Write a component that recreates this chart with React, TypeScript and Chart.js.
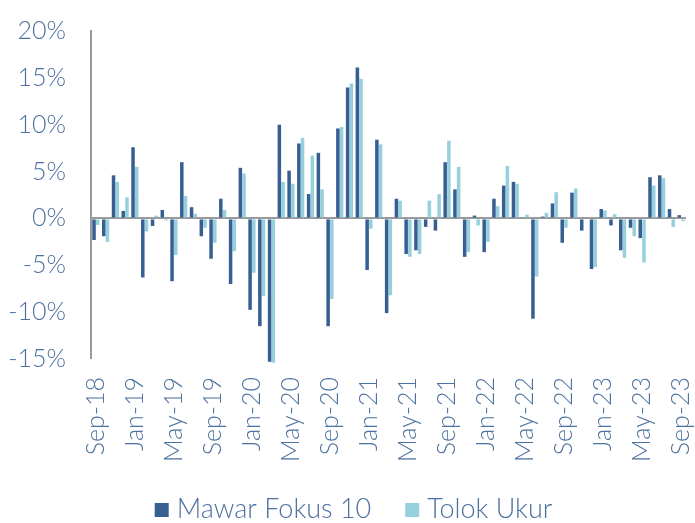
import React, { useEffect, useRef } from "react";
import { Chart, registerables } from "chart.js";

Chart.register(...registerables);

const months: string[] = [
  "Sep-18", "Oct-18", "Nov-18", "Dec-18",
  "Jan-19", "Feb-19", "Mar-19", "Apr-19", "May-19", "Jun-19", "Jul-19", "Aug-19", "Sep-19", "Oct-19", "Nov-19", "Dec-19",
  "Jan-20", "Feb-20", "Mar-20", "Apr-20", "May-20", "Jun-20", "Jul-20", "Aug-20", "Sep-20", "Oct-20", "Nov-20", "Dec-20",
  "Jan-21", "Feb-21", "Mar-21", "Apr-21", "May-21", "Jun-21", "Jul-21", "Aug-21", "Sep-21", "Oct-21", "Nov-21", "Dec-21",
  "Jan-22", "Feb-22", "Mar-22", "Apr-22", "May-22", "Jun-22", "Jul-22", "Aug-22", "Sep-22", "Oct-22", "Nov-22", "Dec-22",
  "Jan-23", "Feb-23", "Mar-23", "Apr-23", "May-23", "Jun-23", "Jul-23", "Aug-23", "Sep-23",
];

const mawarFokus10: number[] = [
  -2.3, -1.9, 4.6, 0.8,
  7.6, -6.3, -0.8, 0.9, -6.7, 6.0, 1.2, -1.9, -4.3, 2.1, -7.0, 5.4,
  -9.75, -11.5, -15.3, 10.0, 5.1, 8.0, 2.6, 7.0, -11.5, 9.6, 13.96, 16.1,
  -5.5, 8.4, -10.1, 2.1, -3.8, -3.4, -0.9, -1.3, 6.0, 3.1, -4.1, 0.3,
  -3.6, 2.1, 3.5, 3.9, 0.0, -10.7, 0.2, 1.6, -2.6, 2.75, -1.3, -5.4,
  1.0, -0.75, -3.4, -1.0, -2.1, 4.4, 4.6, 1.0, 0.35,
];

const tolokUkur: number[] = [
  -0.7, -2.5, 3.9, 2.25,
  5.5, -1.4, 0.3, -0.2, -3.9, 2.4, 0.5, -1.0, -2.6, 0.9, -3.5, 4.8,
  -5.8, -8.3, -15.4, 3.9, 3.7, 8.6, 6.7, 3.1, -8.6, 9.75, 14.4, 14.9,
  -1.1, 7.9, -8.2, 1.9, -4.1, -3.8, 1.9, 2.6, 8.3, 5.5, -3.6, -0.75,
  -2.5, 1.3, 5.6, 3.7, 0.4, -6.2, 0.6, 2.8, -1.0, 3.2, -0.1, -5.2,
  0.85, 0.45, -4.2, -1.9, -4.7, 3.5, 4.3, -0.9, -0.3,
];

const yTicks: number[] = [-15, -10, -5, 0, 5, 10, 15, 20];

const TEXT = "#4d71a0";
const FONT = "Lato";
const WEIGHT = "300";

const legendPlugin = {
  id: "customLegend",
  afterDraw(chart: any) {
    const ctx = chart.ctx;
    const size = 27;
    const box = 14;
    const gapBoxText = 8;
    const gapItems = 34;
    const cy = 509;
    ctx.save();
    ctx.font = `${WEIGHT} ${size}px ${FONT}`;
    const items = chart.data.datasets.map((d: any) => ({
      label: d.label,
      color: d.backgroundColor,
      w: ctx.measureText(d.label).width,
    }));
    const total =
      items.reduce((a: number, it: any) => a + box + gapBoxText + it.w, 0) +
      gapItems * (items.length - 1);
    let x = chart.width / 2 - total / 2 + 6;
    ctx.textBaseline = "middle";
    ctx.textAlign = "left";
    items.forEach((it: any) => {
      ctx.fillStyle = it.color;
      ctx.fillRect(x, cy - box / 2 + 1, box, box);
      x += box + gapBoxText;
      ctx.fillStyle = TEXT;
      ctx.fillText(it.label, x, cy);
      x += it.w + gapItems;
    });
    ctx.restore();
  },
};

export default function App() {
  const ref = useRef<HTMLCanvasElement | null>(null);

  useEffect(() => {
    if (!ref.current) return;
    const chart = new Chart(ref.current, {
      type: "bar",
      data: {
        labels: months,
        datasets: [
          {
            label: "Mawar Fokus 10",
            data: mawarFokus10,
            backgroundColor: "#375f91",
            categoryPercentage: 0.76,
            barPercentage: 0.95,
            clip: 4,
          },
          {
            label: "Tolok Ukur",
            data: tolokUkur,
            backgroundColor: "#96d0dd",
            categoryPercentage: 0.76,
            barPercentage: 0.95,
            clip: 4,
          },
        ],
      },
      options: {
        responsive: false,
        animation: false,
        layout: { autoPadding: false, padding: { top: 31, right: 9, bottom: 50, left: 0 } },
        plugins: {
          tooltip: { enabled: false },
          legend: { display: false },
        },
        scales: {
          x: {
            grid: { display: false, drawTicks: false },
            border: { display: false },
            ticks: {
              autoSkip: false,
              maxRotation: 90,
              minRotation: 90,
              padding: 18,
              color: TEXT,
              font: { family: FONT, size: 25, weight: WEIGHT },
              callback: (_v: any, i: number) => (i % 4 === 0 ? months[i] : ""),
            },
            afterFit: (s: any) => {
              s.height = 114;
              s.paddingLeft = 0;
              s.paddingRight = 0;
            },
          },
          y: {
            min: -15,
            max: 20,
            afterBuildTicks: (s: any) => {
              s.ticks = yTicks.map((v) => ({ value: v }));
            },
            grid: {
              drawTicks: false,
              lineWidth: (ctx: any) => (ctx.tick && ctx.tick.value === 0 ? 2 : 0),
              color: (ctx: any) => (ctx.tick && ctx.tick.value === 0 ? "#9a9a9a" : "rgba(0,0,0,0)"),
            },
            border: { display: true, color: "#9a9a9a", width: 2 },
            ticks: {
              padding: 25,
              color: TEXT,
              font: { family: FONT, size: 25, weight: WEIGHT },
              callback: (v: any) => `${v}%`,
            },
            afterFit: (s: any) => {
              s.width = 91;
              s.paddingTop = 0;
              s.paddingBottom = 0;
            },
          },
        },
      },
      plugins: [legendPlugin],
    });
    return () => chart.destroy();
  }, []);

  return (
    <div style={{ position: "fixed", left: 0, top: 0, width: 695, height: 523, background: "#fff" }}>
      <canvas ref={ref} width={695} height={523} style={{ display: "block" }} />
    </div>
  );
}
